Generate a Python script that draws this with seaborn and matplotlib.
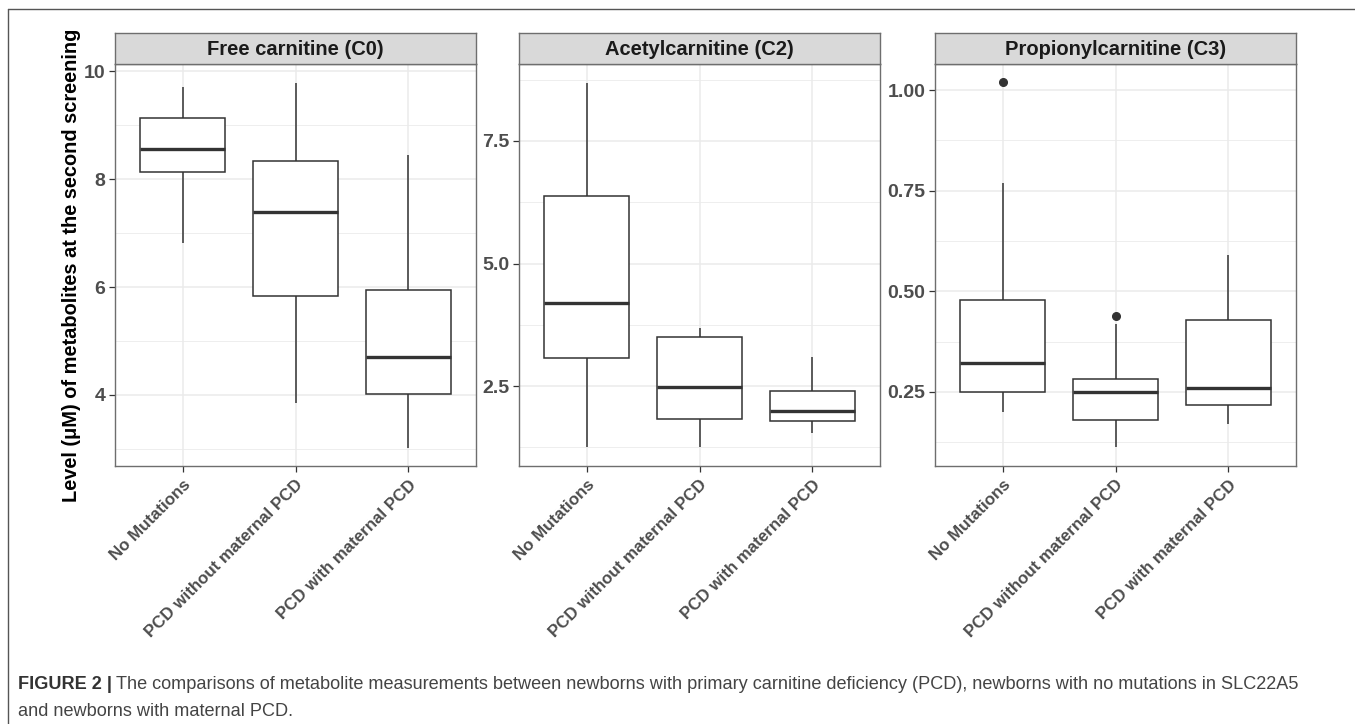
import matplotlib
matplotlib.use("Agg")
import matplotlib.pyplot as plt
from matplotlib.lines import Line2D
import numpy as np
import pandas as pd
import seaborn as sns

# ---------------- data (five-number summaries) ----------------
groups = ["No Mutations", "PCD without maternal PCD", "PCD with maternal PCD"]
metabolites = ["Free carnitine (C0)", "Acetylcarnitine (C2)", "Propionylcarnitine (C3)"]

c0_low = [6.81, 3.85, 3.02]
c0_q1 = [8.13, 5.83, 4.02]
c0_med = [8.56, 7.39, 4.70]
c0_q3 = [9.13, 8.33, 5.94]
c0_high = [9.70, 9.78, 8.44]
c0_out = [[], [], []]

c2_low = [1.26, 1.26, 1.55]
c2_q1 = [3.07, 1.83, 1.79]
c2_med = [4.19, 2.48, 1.99]
c2_q3 = [6.38, 3.50, 2.40]
c2_high = [8.68, 3.68, 3.09]
c2_out = [[], [], []]

c3_low = [0.20, 0.113, 0.17]
c3_q1 = [0.25, 0.18, 0.218]
c3_med = [0.322, 0.25, 0.26]
c3_q3 = [0.478, 0.283, 0.429]
c3_high = [0.77, 0.42, 0.59]
c3_out = [[1.02], [0.44], []]

y_major = [[4, 6, 8, 10], [2.5, 5.0, 7.5], [0.25, 0.50, 0.75, 1.00]]
y_minor = [[3, 5, 7, 9], [1.25, 3.75, 6.25, 8.75], [0.125, 0.375, 0.625, 0.875]]
y_labels = [["4", "6", "8", "10"], ["2.5", "5.0", "7.5"], ["0.25", "0.50", "0.75", "1.00"]]
y_lims = [(2.685, 10.13), (0.87, 9.07), (0.066, 1.065)]

ylabel = "Level (\u03bcM) of metabolites at the second screening"
caption_bold = "FIGURE 2 |"
caption_1 = ("The comparisons of metabolite measurements between newborns with primary carnitine "
             "deficiency (PCD), newborns with no mutations in SLC22A5")
caption_2 = "and newborns with maternal PCD."

summaries = [
    (c0_low, c0_q1, c0_med, c0_q3, c0_high, c0_out),
    (c2_low, c2_q1, c2_med, c2_q3, c2_high, c2_out),
    (c3_low, c3_q1, c3_med, c3_q3, c3_high, c3_out),
]


def table_from_summary(low, q1, med, q3, high, out):
    # 9 points per group: quartiles (linear interpolation) land exactly on q1/med/q3
    rows = []
    for g, lo, a, m, b, hi, o in zip(groups, low, q1, med, q3, high, out):
        vals = [lo, a, a, m, m, b, b, hi] + (o if o else [hi])
        rows += [(g, v) for v in vals]
    return pd.DataFrame(rows, columns=["group", "value"])


# ---------------- figure ----------------
sns.set_theme(style="white")
plt.rcParams["font.family"] = ["Liberation Sans", "DejaVu Sans"]

W, H = 1355, 724
fig = plt.figure(figsize=(W / 100, H / 100), dpi=100)
fig.patch.set_facecolor("white")

panel_left = [115, 519, 935]
panel_w = 361
panel_top, panel_bottom = 64, 466
strip_top = 33

line_col = "#333333"
for i in range(3):
    x0 = panel_left[i] / W
    ax = fig.add_axes([x0, 1 - panel_bottom / H, panel_w / W, (panel_bottom - panel_top) / H])
    df = table_from_summary(*summaries[i])
    sns.boxplot(data=df, x="group", y="value", order=groups, ax=ax,
                color="white", linecolor=line_col, linewidth=1.1, width=0.75,
                showcaps=False, whis=1.5, fliersize=5.5,
                medianprops={"linewidth": 2.4, "color": line_col},
                flierprops={"marker": "o", "markerfacecolor": line_col,
                            "markeredgecolor": line_col})
    ax.set_xlim(-0.6, 2.6)
    ax.set_ylim(*y_lims[i])
    ax.set_yticks(y_major[i])
    ax.set_yticklabels(y_labels[i])
    ax.set_yticks(y_minor[i], minor=True)
    ax.set_xticks(range(3))
    ax.set_xticklabels(groups, rotation=45, ha="right", va="top", rotation_mode="anchor")
    ax.set_axisbelow(True)
    ax.grid(which="major", color="#EBEBEB", linewidth=1.1)
    ax.grid(which="minor", axis="y", color="#EBEBEB", linewidth=0.6)
    ax.tick_params(which="minor", length=0)
    ax.tick_params(which="major", length=4, width=0.9, color=line_col, direction="out",
                   left=True, bottom=True)
    ax.tick_params(axis="y", labelsize=14, labelcolor="#4D4D4D", pad=3)
    ax.tick_params(axis="x", labelsize=12.2, labelcolor="#4D4D4D", pad=4)
    for lab in ax.get_xticklabels() + ax.get_yticklabels():
        lab.set_fontweight("bold")
    ax.set_xlabel("")
    ax.set_ylabel("")
    for s in ax.spines.values():
        s.set_color("#6E6E6E")
        s.set_linewidth(1.0)

    # facet strip
    sax = fig.add_axes([x0, 1 - panel_top / H, panel_w / W, (panel_top - strip_top) / H])
    sax.set_facecolor("#D9D9D9")
    sax.set_xticks([])
    sax.set_yticks([])
    for s in sax.spines.values():
        s.set_color("#6E6E6E")
        s.set_linewidth(1.0)
    sax.text(0.5, 0.47, metabolites[i], ha="center", va="center", fontsize=14.5,
             fontweight="bold", color="#1A1A1A", transform=sax.transAxes)

fig.text(72 / W, 1 - 265 / H, ylabel, rotation=90, ha="center", va="center",
         fontsize=14.4, fontweight="bold", color="black")

# outer frame (top and left rules)
fig.add_artist(Line2D([8 / W, 1], [1 - 9 / H, 1 - 9 / H], transform=fig.transFigure,
                      color="#555555", linewidth=1.0))
fig.add_artist(Line2D([8 / W, 8 / W], [0, 1 - 9 / H], transform=fig.transFigure,
                      color="#555555", linewidth=1.0))

# caption
cap_fs = 13.1
cap_y1 = 1 - 689 / H
cap_y2 = 1 - 716 / H
tb = fig.text(18 / W, cap_y1, caption_bold, fontsize=cap_fs, fontweight="bold",
              color="#333333", va="baseline", ha="left")
fig.canvas.draw()
bb = tb.get_window_extent(renderer=fig.canvas.get_renderer())
fig.text((bb.x1 + 4) / W, cap_y1, caption_1, fontsize=cap_fs, color="#444444",
         va="baseline", ha="left")
fig.text(18 / W, cap_y2, caption_2, fontsize=cap_fs, color="#444444",
         va="baseline", ha="left")

fig.savefig("out.png", dpi=100)
